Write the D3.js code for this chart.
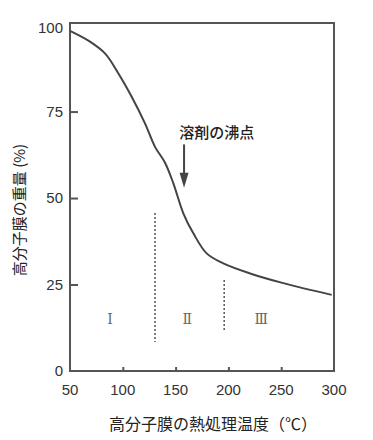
<!DOCTYPE html>
<html>
<head>
<meta charset="utf-8">
<script src="https://cdn.jsdelivr.net/npm/d3@7"></script>
<style>
  body { margin: 0; background: #fff; }
  text { font-family: "Liberation Sans", Arial, sans-serif; fill: #333; }
  .jp { font-family: "Noto Sans CJK JP", sans-serif; }
</style>
</head>
<body>
<script>
// temperature (°C) vs. membrane weight (%)
var temps   = [50, 68.9, 83.1, 95.7, 108.4, 121, 130.5, 140, 147.8, 157.3, 166.8, 179.4, 195.2, 220.5, 252, 297.8];
var weights = [98.3, 95.2, 91.8, 86.1, 79.3, 71.6, 64.8, 60.2, 54.3, 45.6, 39.8, 34, 31.1, 28.2, 25.4, 22];

var xTicks = [50, 100, 150, 200, 250, 300];
var yTicks = [0, 25, 50, 75, 100];

// region boundaries (dotted lines): [x, yTop, yBottom]
var bounds = [[130.5, 45.7, 8.4], [196, 26.3, 11.3]];
var regionX = [88, 161, 231];
var regionLabels = ["Ⅰ", "Ⅱ", "Ⅲ"];

var boil = { x: 158, yTop: 65.5, yTip: 53 };

var width = 373, height = 440;
var margin = { top: 23, right: 39, bottom: 69, left: 70 };

var svg = d3.select("body").append("svg")
    .attr("width", width)
    .attr("height", height);

var x = d3.scaleLinear().domain([50, 300]).range([margin.left, width - margin.right]);
var y = d3.scaleLinear().domain([0, 100.6]).range([height - margin.bottom, margin.top]);

// frame
svg.append("rect")
    .attr("x", x(50))
    .attr("y", y(100.6))
    .attr("width", x(300) - x(50))
    .attr("height", y(0) - y(100.6))
    .attr("fill", "none")
    .attr("stroke", "#555")
    .attr("stroke-width", 2);

// y axis, ticks pointing inward
var yAxis = svg.append("g")
    .attr("transform", "translate(" + x(50) + ",0)")
    .call(d3.axisRight(y).tickValues(yTicks).tickSize(8).tickFormat(""));
yAxis.select(".domain").remove();
yAxis.selectAll("line").attr("stroke", "#555").attr("stroke-width", 2)
    .filter(function (d) { return d === 0 || d === 100; }).remove();

svg.selectAll(".ylab")
    .data(yTicks)
    .enter().append("text")
    .attr("x", x(50) - 7)
    .attr("y", function (d) { return d === 100 ? y(100) + 3 : y(d); })
    .attr("dy", "0.35em")
    .attr("text-anchor", "end")
    .style("font-size", "15px")
    .text(function (d) { return d; });

// x axis, ticks pointing up
var xAxis = svg.append("g")
    .attr("transform", "translate(0," + y(0) + ")")
    .call(d3.axisTop(x).tickValues(xTicks).tickSize(4).tickFormat(""));
xAxis.select(".domain").remove();
xAxis.selectAll("line").attr("stroke", "#555").attr("stroke-width", 2)
    .filter(function (d) { return d === 50 || d === 300; }).remove();

svg.selectAll(".xlab")
    .data(xTicks)
    .enter().append("text")
    .attr("x", function (d) { return x(d); })
    .attr("y", y(0) + 24)
    .attr("text-anchor", "middle")
    .style("font-size", "15px")
    .text(function (d) { return d; });

// dotted boundaries
svg.selectAll(".bound")
    .data(bounds)
    .enter().append("line")
    .attr("x1", function (d) { return x(d[0]); })
    .attr("x2", function (d) { return x(d[0]); })
    .attr("y1", function (d) { return y(d[1]); })
    .attr("y2", function (d) { return y(d[2]); })
    .attr("stroke", "#555")
    .attr("stroke-width", 1.5)
    .attr("stroke-dasharray", "2,2");

svg.selectAll(".region")
    .data(regionLabels)
    .enter().append("text")
    .attr("x", function (d, i) { return x(regionX[i]); })
    .attr("y", y(15))
    .attr("dy", "0.35em")
    .attr("text-anchor", "middle")
    .style("font-family", "'DejaVu Serif', 'Liberation Serif', serif")
    .style("font-size", "14px")
    .style("fill", "#666")
    .text(function (d) { return d; });

// curve
var line = d3.line()
    .x(function (d, i) { return x(temps[i]); })
    .y(function (d) { return y(d); })
    .curve(d3.curveCatmullRom.alpha(0.5));

svg.append("path")
    .datum(weights)
    .attr("d", line)
    .attr("fill", "none")
    .attr("stroke", "#444")
    .attr("stroke-width", 2);

// boiling point arrow
svg.append("line")
    .attr("x1", x(boil.x)).attr("x2", x(boil.x))
    .attr("y1", y(boil.yTop)).attr("y2", y(boil.yTip) - 12)
    .attr("stroke", "#444")
    .attr("stroke-width", 2);
svg.append("path")
    .attr("d", "M" + (x(boil.x) - 4.5) + "," + (y(boil.yTip) - 15) +
        " L" + (x(boil.x) + 4.5) + "," + (y(boil.yTip) - 15) +
        " L" + x(boil.x) + "," + y(boil.yTip) + " Z")
    .attr("fill", "#444");

svg.append("text")
    .attr("class", "jp")
    .attr("x", x(189))
    .attr("y", y(67.5))
    .attr("text-anchor", "middle")
    .style("font-size", "15px")
    .style("font-weight", "500")
    .style("fill", "#222")
    .text("溶剤の沸点");

// axis titles
svg.append("text")
    .attr("class", "jp")
    .attr("x", 213)
    .attr("y", 430)
    .attr("text-anchor", "middle")
    .style("font-size", "16px")
    .style("fill", "#222")
    .text("高分子膜の熱処理温度（℃）");

svg.append("text")
    .attr("class", "jp")
    .attr("transform", "translate(25,210) rotate(-90)")
    .attr("text-anchor", "middle")
    .style("font-size", "15px")
    .style("fill", "#222")
    .text("高分子膜の重量 (%)");
</script>
</body>
</html>
